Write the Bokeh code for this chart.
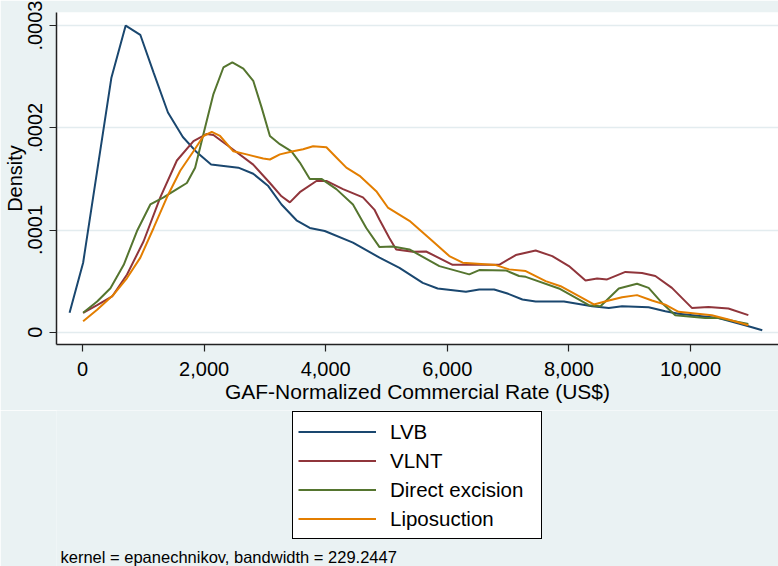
from bokeh.plotting import figure
from bokeh.layouts import column
from bokeh.models import (Range1d, FixedTicker, NumeralTickFormatter, CustomJSTickFormatter,
                          Legend, LegendItem, Label)
from bokeh.embed import file_html
from bokeh.resources import INLINE

# ---- data ----
x_ticks = [0, 2000, 4000, 6000, 8000, 10000]
y_ticks = [0, 0.0001, 0.0002, 0.0003]

lvb_x = [-213, 10, 475, 710, 950, 1169, 1405, 1650, 1880, 2115, 2563, 2808, 3055, 3273, 3519,
         3738, 3984, 4448, 4885, 5213, 5596, 5841, 6306, 6525, 6770, 6989, 7235, 7453, 7918,
         8382, 8656, 8874, 9311, 9585, 9803, 10459, 10896, 11180]
lvb_y = [0.19e-4, 0.68e-4, 2.49e-4, 3.00e-4, 2.91e-4, 2.54e-4, 2.15e-4, 1.91e-4, 1.76e-4, 1.64e-4,
         1.61e-4, 1.55e-4, 1.43e-4, 1.25e-4, 1.095e-4, 1.02e-4, 0.99e-4, 0.876e-4, 0.73e-4,
         0.63e-4, 0.483e-4, 0.428e-4, 0.395e-4, 0.418e-4, 0.418e-4, 0.379e-4, 0.32e-4, 0.30e-4,
         0.30e-4, 0.255e-4, 0.238e-4, 0.255e-4, 0.245e-4, 0.206e-4, 0.18e-4, 0.14e-4, 0.069e-4,
         0.02e-4]

vlnt_x = [10, 240, 487, 732, 1005, 1279, 1552, 1825, 2044, 2153, 2426, 2808, 3082, 3273, 3410,
          3574, 3847, 4011, 4284, 4612, 4800, 4885, 5049, 5159, 5432, 5650, 6087, 6852, 7126,
          7453, 7726, 8000, 8273, 8464, 8628, 8929, 9202, 9421, 9694, 9858, 10022, 10295,
          10623, 10951]
vlnt_y = [0.19e-4, 0.265e-4, 0.35e-4, 0.565e-4, 0.89e-4, 1.32e-4, 1.68e-4, 1.87e-4, 1.94e-4,
          1.93e-4, 1.81e-4, 1.64e-4, 1.46e-4, 1.33e-4, 1.27e-4, 1.37e-4, 1.48e-4, 1.48e-4,
          1.40e-4, 1.32e-4, 1.20e-4, 1.10e-4, 0.92e-4, 0.81e-4, 0.787e-4, 0.79e-4, 0.66e-4,
          0.66e-4, 0.755e-4, 0.80e-4, 0.745e-4, 0.647e-4, 0.507e-4, 0.526e-4, 0.517e-4, 0.59e-4,
          0.58e-4, 0.55e-4, 0.434e-4, 0.336e-4, 0.238e-4, 0.248e-4, 0.232e-4, 0.167e-4]

direct_x = [10, 240, 459, 678, 896, 1115, 1333, 1552, 1716, 1852, 1989, 2153, 2317, 2464, 2645,
            2808, 2945, 3082, 3246, 3437, 3574, 3738, 3929, 4175, 4448, 4667, 4885, 5104, 5377,
            5869, 6361, 6525, 6962, 7180, 7290, 7836, 8328, 8519, 8820, 9120, 9311, 9530, 9749,
            10240, 10459, 10951]
direct_y = [0.19e-4, 0.30e-4, 0.43e-4, 0.66e-4, 0.99e-4, 1.25e-4, 1.32e-4, 1.40e-4, 1.46e-4,
            1.61e-4, 1.94e-4, 2.33e-4, 2.59e-4, 2.64e-4, 2.58e-4, 2.46e-4, 2.20e-4, 1.92e-4,
            1.84e-4, 1.77e-4, 1.66e-4, 1.50e-4, 1.50e-4, 1.40e-4, 1.25e-4, 1.02e-4, 0.833e-4,
            0.838e-4, 0.81e-4, 0.647e-4, 0.566e-4, 0.608e-4, 0.605e-4, 0.55e-4, 0.542e-4,
            0.428e-4, 0.265e-4, 0.255e-4, 0.428e-4, 0.474e-4, 0.434e-4, 0.287e-4, 0.167e-4,
            0.14e-4, 0.14e-4, 0.081e-4]

lipo_x = [10, 240, 514, 732, 951, 1169, 1388, 1607, 1825, 1989, 2126, 2262, 2481, 2700, 2972,
          3082, 3246, 3464, 3628, 3792, 4011, 4175, 4339, 4557, 4831, 5022, 5377, 5760, 6033,
          6252, 6798, 7016, 7290, 7617, 7863, 8164, 8410, 8656, 8874, 9120, 9366, 9585, 9803,
          10350, 10623, 10951]
lipo_y = [0.108e-4, 0.22e-4, 0.37e-4, 0.53e-4, 0.73e-4, 1.02e-4, 1.32e-4, 1.58e-4, 1.77e-4,
          1.92e-4, 1.96e-4, 1.92e-4, 1.77e-4, 1.74e-4, 1.70e-4, 1.69e-4, 1.74e-4, 1.77e-4,
          1.79e-4, 1.82e-4, 1.81e-4, 1.71e-4, 1.61e-4, 1.53e-4, 1.38e-4, 1.22e-4, 1.09e-4,
          0.89e-4, 0.745e-4, 0.68e-4, 0.657e-4, 0.615e-4, 0.598e-4, 0.50e-4, 0.45e-4, 0.353e-4,
          0.272e-4, 0.31e-4, 0.343e-4, 0.363e-4, 0.31e-4, 0.27e-4, 0.20e-4, 0.167e-4, 0.125e-4,
          0.069e-4]

series_names = ["LVB", "VLNT", "Direct excision", "Liposuction"]
series_colors = ["#1A476F", "#90353B", "#55752F", "#E37E00"]
series_x = [lvb_x, vlnt_x, direct_x, lipo_x]
series_y = [lvb_y, vlnt_y, direct_y, lipo_y]
note_text = "kernel = epanechnikov, bandwidth = 229.2447"

FONT = "Liberation Sans"
BG = "#EAF2F3"

# ---------------- main chart ----------------
p = figure(width=778, height=410, output_backend="svg", toolbar_location=None,
           x_range=Range1d(-428, 11447), y_range=Range1d(-0.0000120, 0.0003128),
           min_border_left=56, min_border_top=12, min_border_right=0, min_border_bottom=66)
p.border_fill_color = BG
p.background_fill_color = "white"
p.outline_line_color = None
p.xgrid.grid_line_color = None
p.ygrid.grid_line_color = "#E3ECEF"
p.ygrid.grid_line_width = 1.5

for xs, ys, c in zip(series_x, series_y, series_colors):
    p.line(xs, ys, line_color=c, line_width=2)

xa = p.xaxis[0]
xa.ticker = FixedTicker(ticks=x_ticks)
xa.formatter = NumeralTickFormatter(format="0,0")
xa.axis_label = "GAF-Normalized Commercial Rate (US$)"
ya = p.yaxis[0]
ya.ticker = FixedTicker(ticks=y_ticks)
ya.formatter = CustomJSTickFormatter(code="return tick == 0 ? '0' : tick.toFixed(4).replace(/^0/, '');")
ya.axis_label = "Density"
ya.major_label_orientation = "vertical"

for ax in (xa, ya):
    ax.axis_line_color = "#222222"
    ax.axis_line_width = 1.5
    ax.major_tick_line_color = "#222222"
    ax.major_tick_line_width = 1.2
    ax.major_tick_out = 7
    ax.major_tick_in = 0
    ax.minor_tick_line_color = None
    ax.major_label_text_font = FONT
    ax.major_label_text_font_size = "20px"
    ax.major_label_text_color = "black"
    ax.axis_label_text_font = FONT
    ax.axis_label_text_font_style = "normal"
    ax.axis_label_text_color = "black"

xa.axis_label_text_font_size = "21px"
ya.axis_label_text_font_size = "20px"
xa.major_label_standoff = 10
xa.axis_label_standoff = 1
ya.major_label_standoff = 7
ya.axis_label_standoff = 0

# ---------------- legend + note strip ----------------
q = figure(width=778, height=156, output_backend="svg", toolbar_location=None,
           x_range=Range1d(0, 1), y_range=Range1d(1, 2),
           x_axis_type=None, y_axis_type=None,
           min_border_left=0, min_border_right=0, min_border_top=0, min_border_bottom=0)
q.border_fill_color = BG
q.background_fill_color = BG
q.outline_line_color = None

key_renderers = []
for xs, ys, c in zip(series_x, series_y, series_colors):
    key_renderers.append(q.line(xs, ys, line_color=c, line_width=2))

legend = Legend(items=[LegendItem(label=n, renderers=[r]) for n, r in zip(series_names, key_renderers)],
                location=(236, 27), orientation="vertical",
                border_line_color="black", border_line_width=1, border_line_alpha=1,
                background_fill_color="white", background_fill_alpha=1,
                label_text_font=FONT, label_text_font_size="20.5px", label_text_color="black",
                glyph_width=78, glyph_height=29, label_height=29, label_width=146, spacing=0,
                padding=5, label_standoff=14, margin=0)
q.add_layout(legend, "center")

note = Label(x=4, y=10, x_units="screen", y_units="screen", text=note_text,
             text_font=FONT, text_font_size="16.5px", text_color="black",
             text_baseline="middle", text_align="left")
q.add_layout(note)

layout = column(p, q, spacing=0)
open("out.html", "w").write(file_html(layout, INLINE))
